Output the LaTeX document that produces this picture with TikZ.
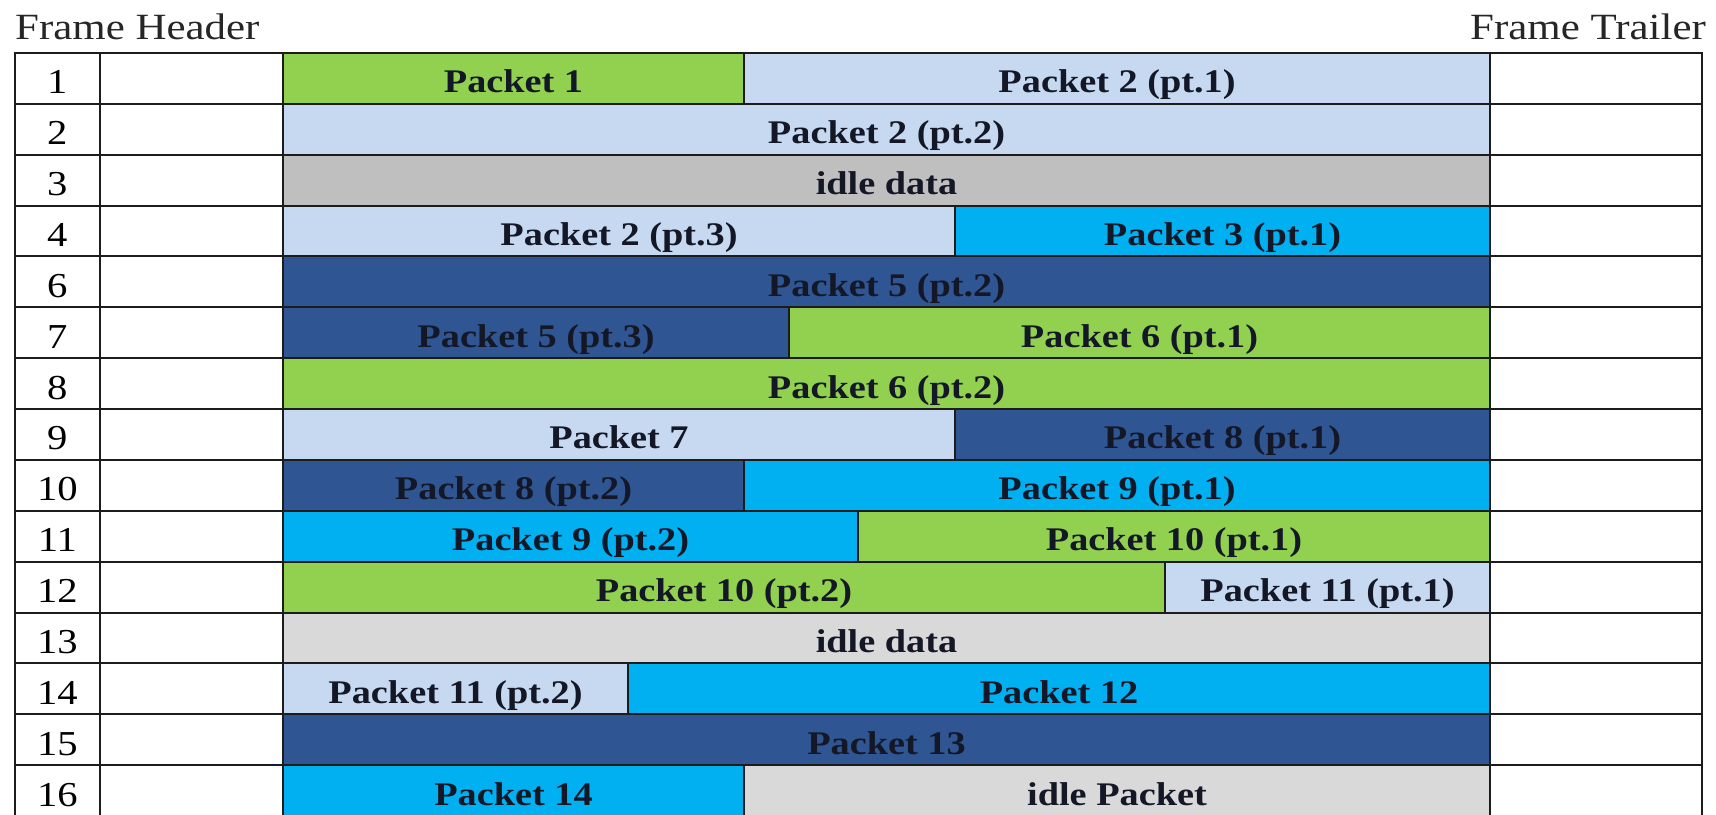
\documentclass[tikz,border=0pt]{standalone}
\usepackage{fontspec}
\setmainfont[FakeStretch=1.16]{Liberation Serif}

\definecolor{pgreen}{HTML}{92D050}
\definecolor{plight}{HTML}{C6D9F1}
\definecolor{pgray}{HTML}{BFBFBF}
\definecolor{pidle}{HTML}{D9D9D9}
\definecolor{pcyan}{HTML}{00B0F0}
\definecolor{pdark}{HTML}{2F5592}
\definecolor{rulecol}{HTML}{1C1C1C}
\definecolor{ink}{HTML}{141826}

\tikzset{
  cell/.style={draw=rulecol, line width=2pt, inner sep=0pt, anchor=north west,
               minimum height=50.87pt},
  pkt/.style={cell, font=\fontsize{33}{36}\selectfont\bfseries, text=ink,
              text height=39.87pt, text depth=11pt},
  num/.style={cell, font=\fontsize{35}{38}\selectfont, text=black, fill=white,
              text height=40.87pt, text depth=10pt},
  blank/.style={cell, fill=white},
  caption/.style={font=\fontsize{37}{40}\selectfont, text=black!85, inner sep=0pt},
}

% top edge of slot #1 (0-based)
\newcommand\slottop[1]{52+#1*50.87}

% one packet segment: name, left x, right x, slot, colour, label
\newcommand\pktseg[6]{%
  \node[pkt, fill=#5, minimum width={(#3-#2)*1pt}] (#1) at (#2,{\slottop{#4}}) {#6};}

% frame number, header cell and trailer cell of slot #1, numbered #2
\newcommand\framerow[2]{%
  \node[num, minimum width=84.7pt] (n#1) at (14,{\slottop{#1}}) {#2};
  \node[blank, minimum width=183.3pt] (h#1) at (98.7,{\slottop{#1}}) {};
  \node[blank, minimum width=212pt] (t#1) at (1489,{\slottop{#1}}) {};}

\begin{document}
\begin{tikzpicture}[x=1pt, y=-1pt]
  \fill[white] (0,0) rectangle (1716,814);
  \useasboundingbox (0,0) rectangle (1716,814);

  \node[caption, anchor=base west] (hdr) at (15,39) {Frame Header};
  \node[caption, anchor=base east] (trl) at (1706,39) {Frame Trailer};

  \framerow{0}{1}
  \framerow{1}{2}
  \framerow{2}{3}
  \framerow{3}{4}
  \framerow{4}{6}
  \framerow{5}{7}
  \framerow{6}{8}
  \framerow{7}{9}
  \framerow{8}{10}
  \framerow{9}{11}
  \framerow{10}{12}
  \framerow{11}{13}
  \framerow{12}{14}
  \framerow{13}{15}
  \framerow{14}{16}

  \pktseg{p0a}{282}{743}{0}{pgreen}{Packet 1}
  \pktseg{p0b}{743}{1489}{0}{plight}{Packet 2 (pt.1)}
  \pktseg{p1a}{282}{1489}{1}{plight}{Packet 2 (pt.2)}
  \pktseg{p2a}{282}{1489}{2}{pgray}{idle data}
  \pktseg{p3a}{282}{954}{3}{plight}{Packet 2 (pt.3)}
  \pktseg{p3b}{954}{1489}{3}{pcyan}{Packet 3 (pt.1)}
  \pktseg{p4a}{282}{1489}{4}{pdark}{Packet 5 (pt.2)}
  \pktseg{p5a}{282}{788}{5}{pdark}{Packet 5 (pt.3)}
  \pktseg{p5b}{788}{1489}{5}{pgreen}{Packet 6 (pt.1)}
  \pktseg{p6a}{282}{1489}{6}{pgreen}{Packet 6 (pt.2)}
  \pktseg{p7a}{282}{954}{7}{plight}{Packet 7}
  \pktseg{p7b}{954}{1489}{7}{pdark}{Packet 8 (pt.1)}
  \pktseg{p8a}{282}{743}{8}{pdark}{Packet 8 (pt.2)}
  \pktseg{p8b}{743}{1489}{8}{pcyan}{Packet 9 (pt.1)}
  \pktseg{p9a}{282}{857}{9}{pcyan}{Packet 9 (pt.2)}
  \pktseg{p9b}{857}{1489}{9}{pgreen}{Packet 10 (pt.1)}
  \pktseg{p10a}{282}{1164}{10}{pgreen}{Packet 10 (pt.2)}
  \pktseg{p10b}{1164}{1489}{10}{plight}{Packet 11 (pt.1)}
  \pktseg{p11a}{282}{1489}{11}{pidle}{idle data}
  \pktseg{p12a}{282}{627}{12}{plight}{Packet 11 (pt.2)}
  \pktseg{p12b}{627}{1489}{12}{pcyan}{Packet 12}
  \pktseg{p13a}{282}{1489}{13}{pdark}{Packet 13}
  \pktseg{p14a}{282}{743}{14}{pcyan}{Packet 14}
  \pktseg{p14b}{743}{1489}{14}{pidle}{idle Packet}
\end{tikzpicture}
\end{document}
